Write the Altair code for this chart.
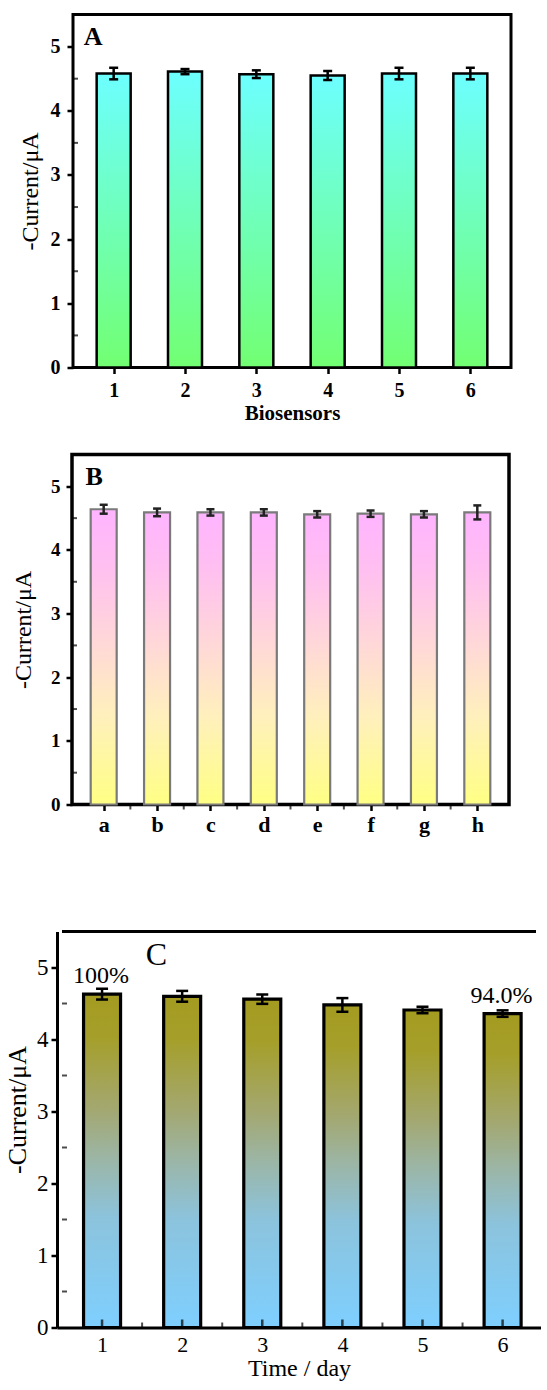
import json
import altair as alt
import pandas as pd

FONT = "Liberation Serif"

# ---------------- data ----------------
# Panel A: reproducibility of six biosensors
biosensors = ["1", "2", "3", "4", "5", "6"]
current_a = [4.58, 4.61, 4.57, 4.55, 4.58, 4.58]
err_a = [0.09, 0.04, 0.06, 0.07, 0.09, 0.09]

# Panel B: interference (a-h)
interferents = ["a", "b", "c", "d", "e", "f", "g", "h"]
current_b = [4.64, 4.59, 4.59, 4.59, 4.56, 4.57, 4.56, 4.59]
err_b = [0.07, 0.06, 0.05, 0.05, 0.05, 0.05, 0.05, 0.11]

# Panel C: stability over days
days = ["1", "2", "3", "4", "5", "6"]
current_c = [4.63, 4.60, 4.56, 4.48, 4.41, 4.36]
err_c = [0.075, 0.075, 0.065, 0.095, 0.045, 0.045]
retention = ["100%", "", "", "", "", "94.0%"]

y_major = [0, 1, 2, 3, 4, 5]
y_minor = [0.5, 1.5, 2.5, 3.5, 4.5]


def table(cats, vals, errs):
    return pd.DataFrame({
        "cat": cats,
        "pos": list(range(1, len(cats) + 1)),
        "current": vals,
        "err": errs,
    })


def grad(stops):
    return alt.LinearGradient(
        gradient="linear",
        stops=[alt.GradientStop(color=c, offset=o) for o, c in stops],
        x1=0, x2=0, y1=1, y2=0,
    )


def spacer(w, h):
    return alt.Chart(pd.DataFrame({"v": [0]})).mark_point(
        opacity=0, size=1
    ).encode(x=alt.value(1), y=alt.value(1)).properties(
        width=w, height=h, view=alt.ViewBackground(stroke=None)
    )


ySc = alt.Scale(domain=[0, 5.5], nice=False, zero=False)


def make_axes(cats, lab_size, lab_weight, ylab_size, ylab_pad, ytitle_size,
              ytitle_x, ytitle_y, xlab_pad, xtitle, xtitle_size, xtitle_weight,
              xtitle_y, frame, x_ticks_axis):
    label_expr = json.dumps(cats) + "[datum.value - 1]"
    xaxis = alt.Axis(
        values=list(range(1, len(cats) + 1)), labelExpr=label_expr,
        labelFont=FONT, labelFontSize=lab_size, labelFontWeight=lab_weight,
        labelColor="black", labelPadding=xlab_pad, labelFlush=False,
        ticks=x_ticks_axis, tickSize=6 if x_ticks_axis else 0, tickWidth=2.5,
        tickColor="black", grid=False,
        domain=not frame, domainColor="black", domainWidth=3,
        title=xtitle if xtitle is not None else "",
        titleFont=FONT, titleFontSize=xtitle_size,
        titleFontWeight=xtitle_weight, titleColor="black",
        titleY=xtitle_y, titleBaseline="top",
    )
    yaxis = alt.Axis(
        values=y_major, format="d",
        labelFont=FONT, labelFontSize=ylab_size, labelFontWeight=lab_weight,
        labelColor="black", labelPadding=ylab_pad, labelFlush=False,
        tickSize=6, tickWidth=2.5, tickColor="black", grid=False,
        domain=not frame, domainColor="black", domainWidth=3,
        title="-Current/μA", titleFont=FONT, titleFontSize=ytitle_size,
        titleFontWeight="normal", titleColor="black",
        titleX=ytitle_x, titleY=ytitle_y, titleBaseline="middle",
        titleAlign="center",
    )
    return xaxis, yaxis


def bar_layers(df, xSc, xax, yax, fill, bar_size, bar_stroke, bar_sw,
               cap_size, err_color):
    base = alt.Chart(df)
    X = lambda f: alt.X(f, scale=xSc, axis=xax)
    Y = lambda f: alt.Y(f, scale=ySc, axis=yax)
    bars = base.mark_bar(
        orient="vertical", size=bar_size, fill=fill, stroke=bar_stroke,
        strokeWidth=bar_sw,
    ).encode(x=X("pos:Q"), y=Y("current:Q"))
    eb = base.transform_calculate(
        lo="datum.current - datum.err", hi="datum.current + datum.err"
    )
    rule = eb.mark_rule(strokeWidth=2.5, color=err_color).encode(
        x=X("pos:Q"), y=Y("lo:Q"), y2="hi:Q")
    cap_lo = eb.mark_tick(orient="horizontal", size=cap_size, thickness=2.5,
                          color=err_color, opacity=1).encode(
        x=X("pos:Q"), y=Y("lo:Q"))
    cap_hi = eb.mark_tick(orient="horizontal", size=cap_size, thickness=2.5,
                          color=err_color, opacity=1).encode(
        x=X("pos:Q"), y=Y("hi:Q"))
    return [bars, rule, cap_lo, cap_hi]


# ---------------- panel A ----------------
dfA = table(biosensors, current_a, err_a)
xA = alt.Scale(domain=[0.5, 6.5], nice=False, zero=False)
xaxA, yaxA = make_axes(biosensors, 20, "bold", 20, 7, 24, -43, 176.5, 7,
                       "Biosensors", 21, "bold", 35, True, True)
gradA = grad([(0, "#72ff72"), (1, "#6dffff")])
layersA = bar_layers(dfA, xA, xaxA, yaxA, gradA, 34, "black", 2.5, 9, "black")
minorA = alt.Chart(pd.DataFrame({"v": y_minor})).mark_tick(
    orient="horizontal", size=5, thickness=2, color="black", xOffset=-2.5
).encode(x=alt.XDatum(0.5, scale=xA, axis=xaxA),
         y=alt.Y("v:Q", scale=ySc, axis=yaxA))
letterA = alt.Chart(pd.DataFrame({"t": ["A"]})).mark_text(
    align="left", baseline="middle", font=FONT, fontSize=26,
    fontWeight="bold", color="black"
).encode(text="t:N", x=alt.XDatum(0.58, scale=xA, axis=xaxA),
         y=alt.YDatum(5.15, scale=ySc, axis=yaxA))
chartA = alt.layer(*layersA, minorA, letterA).properties(
    width=438, height=353,
    view=alt.ViewBackground(stroke="black", strokeWidth=3),
)

# ---------------- panel B ----------------
dfB = table(interferents, current_b, err_b)
xB = alt.Scale(domain=[0.5, 8.5], nice=False, zero=False)
xaxB, yaxB = make_axes(interferents, 22, "bold", 19, 6, 24, -49, 175, 4,
                       None, 20, "bold", 35, True, True)
gradB = grad([(0, "#ffff84"), (0.3, "#fff0bc"), (0.55, "#ffd8d8"),
              (0.8, "#ffc0f0"), (1, "#ffb4ff")])
layersB = bar_layers(dfB, xB, xaxB, yaxB, gradB, 26, "#7a7a7a", 2.2, 8,
                     "#222222")
minorBy = alt.Chart(pd.DataFrame({"v": y_minor})).mark_tick(
    orient="horizontal", size=5, thickness=2, color="black", xOffset=-2.5
).encode(x=alt.XDatum(0.5, scale=xB, axis=xaxB),
         y=alt.Y("v:Q", scale=ySc, axis=yaxB))
minorBx = alt.Chart(pd.DataFrame(
    {"p": [i + 1.5 for i in range(len(interferents) - 1)]}
)).mark_tick(
    orient="vertical", size=5, thickness=2, color="black", yOffset=2.5
).encode(x=alt.X("p:Q", scale=xB, axis=xaxB),
         y=alt.YDatum(0, scale=ySc, axis=yaxB))
letterB = alt.Chart(pd.DataFrame({"t": ["B"]})).mark_text(
    align="left", baseline="middle", font=FONT, fontSize=26,
    fontWeight="bold", color="black"
).encode(text="t:N", x=alt.XDatum(0.66, scale=xB, axis=xaxB),
         y=alt.YDatum(5.14, scale=ySc, axis=yaxB))
chartB = alt.layer(*layersB, minorBy, minorBx, letterB).properties(
    width=437, height=350,
    view=alt.ViewBackground(stroke="black", strokeWidth=3.5),
)

# ---------------- panel C ----------------
dfC = table(days, current_c, err_c)
dfC["label"] = retention
xdomC = [0.5, 6.417]
xC = alt.Scale(domain=xdomC, nice=False, zero=False)
xaxC, yaxC = make_axes(days, 22, "normal", 23, 3, 26, -40, 178, 7,
                       "Time / day", 24, "normal", 29, False, False)
gradC = grad([(0, "#7ecfff"), (0.33, "#8cc3dc"), (0.5, "#9bb6a8"),
              (0.65, "#a3a872"), (0.87, "#a59f2a"), (1, "#a49b20")])
layersC = bar_layers(dfC, xC, xaxC, yaxC, gradC, 37, "black", 3.2, 12, "black")
tick_pos = [i + 1 for i in range(len(days))]
minor_pos = [i + 1.5 for i in range(len(days) - 1)]
majorCx = alt.Chart(pd.DataFrame({"p": tick_pos})).mark_tick(
    orient="vertical", size=8, thickness=2.5, color="black", yOffset=-4
).encode(x=alt.X("p:Q", scale=xC, axis=xaxC),
         y=alt.YDatum(0, scale=ySc, axis=yaxC))
minorCx = alt.Chart(pd.DataFrame({"p": minor_pos})).mark_tick(
    orient="vertical", size=5, thickness=2, color="black", yOffset=-2.5
).encode(x=alt.X("p:Q", scale=xC, axis=xaxC),
         y=alt.YDatum(0, scale=ySc, axis=yaxC))
minorCy = alt.Chart(pd.DataFrame({"v": y_minor})).mark_tick(
    orient="horizontal", size=5, thickness=2, color="black", xOffset=2.5
).encode(x=alt.XDatum(0.5, scale=xC, axis=xaxC),
         y=alt.Y("v:Q", scale=ySc, axis=yaxC))
topC = alt.Chart(pd.DataFrame({"v": [0]})).mark_rule(
    color="black", strokeWidth=3
).encode(x=alt.XDatum(xdomC[0], scale=xC, axis=xaxC),
         x2=alt.X2Datum(xdomC[1]),
         y=alt.YDatum(5.5, scale=ySc, axis=yaxC))
pctC = alt.Chart(dfC).transform_filter("datum.label != ''").mark_text(
    font=FONT, fontSize=24, color="black", baseline="middle", dy=-18, dx=-1
).encode(text="label:N", x=alt.X("pos:Q", scale=xC, axis=xaxC),
         y=alt.Y("current:Q", scale=ySc, axis=yaxC))
letterC = alt.Chart(pd.DataFrame({"t": ["C"]})).mark_text(
    align="left", baseline="middle", font=FONT, fontSize=32,
    fontWeight="normal", color="black"
).encode(text="t:N", x=alt.XDatum(1.545, scale=xC, axis=xaxC),
         y=alt.YDatum(5.17, scale=ySc, axis=yaxC))
chartC = alt.layer(*layersC, majorCx, minorCx, minorCy, topC, pctC,
                   letterC).properties(
    width=484, height=396,
    view=alt.ViewBackground(stroke=None),
)

chart = alt.vconcat(
    alt.hconcat(spacer(16, 2), chartA, spacing=0),
    spacer(2, 27),
    alt.hconcat(spacer(9, 2), chartB, spacing=0),
    spacer(2, 92),
    alt.hconcat(spacer(4, 2), chartC, spacing=0),
    spacing=0,
).properties(
    padding={"left": 0, "top": 12.5, "right": 0, "bottom": 0},
    background="white",
)

chart.save("out.html", embed_options={"renderer": "svg", "actions": False})
